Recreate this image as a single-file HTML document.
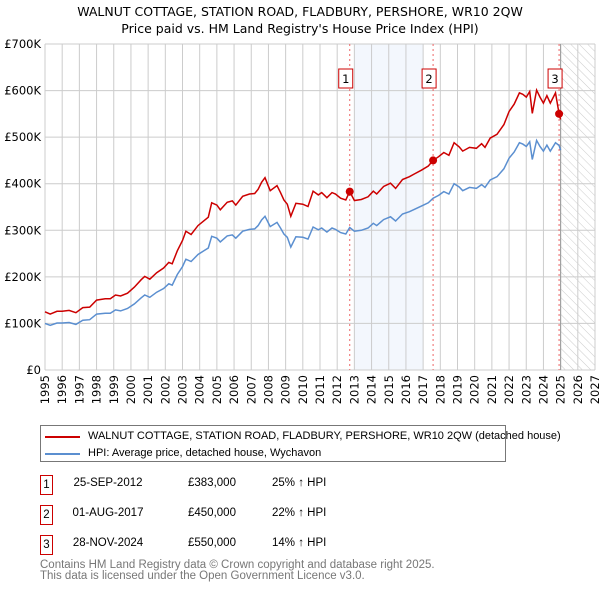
<!DOCTYPE html>
<html><head><meta charset="utf-8"><style>
body{margin:0;background:#fff;font-family:"Liberation Sans","DejaVu Sans",sans-serif;}
#wrap{position:relative;width:600px;height:590px;overflow:hidden}
svg text{font-family:"DejaVu Sans","Liberation Sans",sans-serif}
</style></head><body><div id="wrap">
<svg id="chart" width="600" height="590">
<defs><pattern id="hatch" width="6" height="6" patternUnits="userSpaceOnUse" patternTransform="rotate(-45)"><line x1="0" y1="0" x2="0" y2="6" stroke="#ccc" stroke-width="1"/></pattern></defs>
<text x="300" y="16" text-anchor="middle" font-size="12.5" fill="#000">WALNUT COTTAGE, STATION ROAD, FLADBURY, PERSHORE, WR10 2QW</text>
<text x="300" y="33" text-anchor="middle" font-size="12.5" fill="#000">Price paid vs. HM Land Registry's House Price Index (HPI)</text>
<g id="grid"></g><g id="marks"></g>
</svg>
<div style="position:absolute;left:40px;top:425px;width:464px;height:35px;border:1px solid #777;font-size:11px;white-space:nowrap">
<div style="position:absolute;left:4px;top:10px;width:35px;height:2px;background:#cc0000"></div>
<div style="position:absolute;left:47px;top:4px">WALNUT COTTAGE, STATION ROAD, FLADBURY, PERSHORE, WR10 2QW (detached house)</div>
<div style="position:absolute;left:4px;top:27px;width:35px;height:2px;background:#5b8fd0"></div>
<div style="position:absolute;left:47px;top:21px">HPI: Average price, detached house, Wychavon</div>
</div>
<div id="table" style="font-size:11.5px"></div>
<div style="position:absolute;left:40px;top:560px;font-size:11.5px;color:#777;line-height:11px">Contains HM Land Registry data © Crown copyright and database right 2025.<br>This data is licensed under the Open Government Licence v3.0.</div>
</div>
<script>
const hpiX=[1995.0,1995.3,1995.7,1996.0,1996.4,1996.8,1997.2,1997.6,1998.0,1998.5,1998.8,1999.1,1999.4,1999.8,2000.2,2000.6,2000.8,2001.1,2001.5,2001.9,2002.2,2002.4,2002.7,2003.0,2003.2,2003.5,2003.9,2004.2,2004.5,2004.7,2005.0,2005.2,2005.6,2005.9,2006.1,2006.5,2006.9,2007.2,2007.4,2007.6,2007.8,2008.1,2008.5,2008.7,2008.9,2009.1,2009.3,2009.6,2010.0,2010.3,2010.6,2010.9,2011.1,2011.4,2011.7,2011.9,2012.2,2012.5,2012.73,2013.0,2013.4,2013.8,2014.1,2014.3,2014.7,2015.1,2015.4,2015.8,2016.2,2016.5,2016.9,2017.3,2017.58,2017.9,2018.2,2018.5,2018.8,2019.1,2019.3,2019.7,2020.1,2020.4,2020.6,2020.9,2021.3,2021.7,2022.0,2022.3,2022.6,2022.8,2023.0,2023.2,2023.35,2023.6,2023.8,2024.0,2024.2,2024.4,2024.7,2024.91,2025.0];
const hpiY=[100,96,101,101,102,98,107,108,120,122,122,129,127,132,142,155,161,156,167,175,185,182,205,222,238,233,248,255,262,287,283,275,288,290,283,298,302,303,310,322,330,308,317,305,292,285,264,286,285,281,307,301,305,296,305,302,295,292,306,298,300,305,315,310,323,329,320,335,340,345,352,359,369,375,383,378,400,393,385,392,390,398,392,408,415,432,455,468,488,485,480,490,452,493,480,470,483,470,488,482,472];
const propY=[125,120,126,126,128,123,134,135,150,153,153,161,159,165,178,194,201,195,209,219,231,228,256,278,298,291,310,319,328,359,354,344,360,363,354,373,378,379,388,403,413,385,396,381,365,356,330,358,356,351,384,376,381,370,381,378,369,365,383,364,366,372,384,378,394,401,390,409,415,421,429,438,450,458,467,461,488,479,470,478,476,486,478,498,506,527,555,571,595,592,586,598,551,601,586,573,589,573,595,550,538];
const saleX=[2012.73,2017.58,2024.91];
const saleY=[383,450,550];
const saleLabels=["1","2","3"];
const saleDates=["25-SEP-2012","01-AUG-2017","28-NOV-2024"];
const salePrices=["£383,000","£450,000","£550,000"];
const saleHpi=["25% ↑ HPI","22% ↑ HPI","14% ↑ HPI"];
const yTicks=[0,100,200,300,400,500,600,700];
const yTickLabels=["£0","£100K","£200K","£300K","£400K","£500K","£600K","£700K"];
const xYears=[1995,1996,1997,1998,1999,2000,2001,2002,2003,2004,2005,2006,2007,2008,2009,2010,2011,2012,2013,2014,2015,2016,2017,2018,2019,2020,2021,2022,2023,2024,2025,2026,2027];

const L=45,R=595,T=44,B=370,X0=1995,X1=2027,YMAX=700;
const sx=v=>L+(v-X0)/(X1-X0)*(R-L);
const sy=v=>B-v/YMAX*(B-T);
const NS="http://www.w3.org/2000/svg";
function mk(tag,attrs,parent,text){const e=document.createElementNS(NS,tag);for(const k in attrs)e.setAttribute(k,attrs[k]);if(text!=null)e.textContent=text;parent.appendChild(e);return e;}
const g=document.getElementById('grid'),m=document.getElementById('marks');
let e;
e=mk('rect',{x:sx(2013),y:T,width:sx(2017)-sx(2013),height:B-T,fill:'#eef3fc',opacity:0.7},g);


e=mk('rect',{x:sx(2025),y:T,width:R-sx(2025),height:B-T,fill:'url(#hatch)'},g);


yTicks.forEach((v,i)=>{
 e=mk('line',{x1:L,x2:R,y1:sy(v),y2:sy(v),stroke:'#ccc','stroke-width':1},g);
 
 
 e=mk('text',{x:L-4,y:sy(v)+4,'text-anchor':'end','font-size':11.5,fill:'#000'},g,yTickLabels[i]);
 
 
});
xYears.forEach(y=>{
 e=mk('line',{x1:sx(y),x2:sx(y),y1:T,y2:B,stroke:'#ccc','stroke-width':1},g);
 
 
 e=mk('text',{x:0,y:0,'text-anchor':'end','font-size':11.5,fill:'#000',transform:`translate(${sx(y)+4},${B+5}) rotate(-90)`},g,String(y));
 
 
});
e=mk('line',{x1:sx(2025),x2:sx(2025),y1:T,y2:B,stroke:'#999','stroke-width':1},g);


saleX.forEach((x,i)=>{
 e=mk('line',{x1:sx(x),x2:sx(x),y1:T,y2:B,stroke:'#e66','stroke-width':1,'stroke-dasharray':'2,3'},m);
 
 
});
const pts=(ys)=>hpiX.map((x,i)=>sx(x).toFixed(1)+','+sy(ys[i]).toFixed(1)).join(' ');
e=mk('polyline',{points:pts(hpiY),fill:'none',stroke:'#5b8fd0','stroke-width':1.5},m);


e=mk('polyline',{points:pts(propY),fill:'none',stroke:'#cc0000','stroke-width':1.5},m);


saleX.forEach((x,i)=>{
 e=mk('circle',{cx:sx(x),cy:sy(saleY[i]),r:4,fill:'#cc0000'},m);
 
 
 const bx=sx(x)-11;
 e=mk('rect',{x:bx,y:69,width:14,height:19,fill:'#fff',stroke:'#cc0000','stroke-width':1},m);
 
 
 e=mk('text',{x:bx+7,y:83,'text-anchor':'middle','font-size':11.5,fill:'#000'},m,saleLabels[i]);
 
 
});
const tb=document.getElementById('table');
saleX.forEach((x,i)=>{
 const top=475+i*30;
 const row=document.createElement('div');
 
 
 row.style.cssText=`position:absolute;left:0;top:${top}px;width:600px;height:20px;white-space:nowrap`;
 row.innerHTML=`<div style="position:absolute;left:40px;top:0;width:11px;height:18px;border:1px solid #cc0000;text-align:center;line-height:18px">${saleLabels[i]}</div>
 <div style="position:absolute;left:58px;width:100px;top:2px;text-align:center">${saleDates[i]}</div>
 <div style="position:absolute;left:188px;top:2px">${salePrices[i]}</div>
 <div style="position:absolute;left:272px;top:2px">${saleHpi[i]}</div>`;
 tb.appendChild(row);
});
</script></body></html>
